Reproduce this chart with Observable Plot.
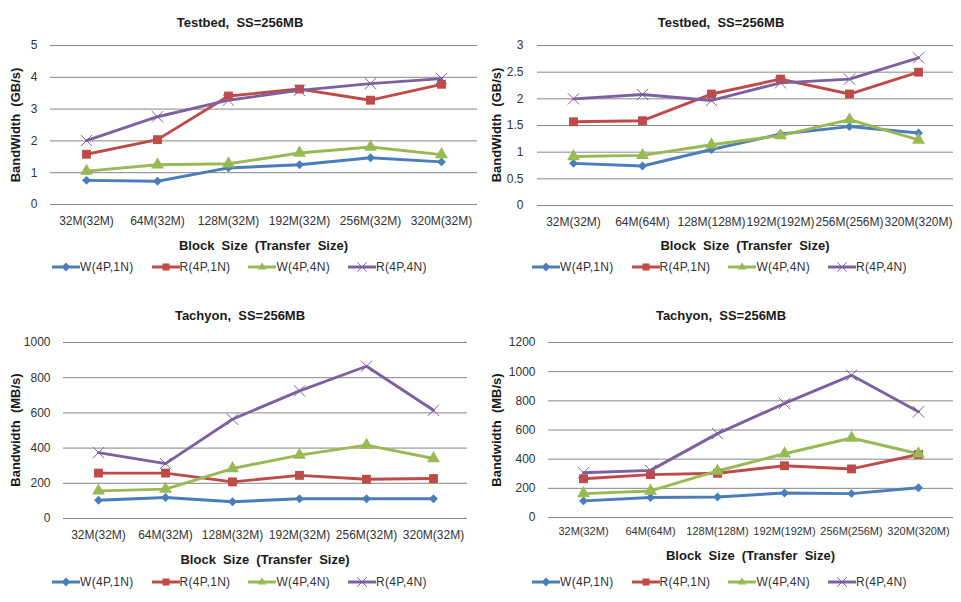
<!DOCTYPE html>
<html>
<head>
<meta charset="utf-8">
<script src="https://cdn.jsdelivr.net/npm/d3@7"></script>
<script src="https://cdn.jsdelivr.net/npm/@observablehq/plot@0.6"></script>
<style>
  html, body { margin: 0; padding: 0; background: #fff; }
  body { font-family: "Liberation Sans", Arial, sans-serif; }
  #root { position: relative; width: 961px; height: 602px; overflow: hidden; background: #fff; }
  .panel { position: absolute; }
  .panel svg { position: absolute; left: 0; top: 0; overflow: visible; }
  .ttl { position: absolute; transform: translate(-50%, -50%); white-space: pre; font-weight: bold; font-size: 13px; color: #1a1a1a; }
  .ylab { position: absolute; transform: translate(-50%, -50%) rotate(-90deg); white-space: pre; font-weight: bold; font-size: 13px; color: #1a1a1a; }
  .legend { position: absolute; display: flex; align-items: center; gap: 18px; transform: translateY(-50%); }
  .legend .item { display: flex; align-items: center; font-size: 12px; color: #333; letter-spacing: 0.3px; white-space: pre; }
  .legend .item svg { position: static; }
</style>
</head>
<body>
<div id="root"></div>
<script>
// ---------- Data ----------
const categoriesFixed = ["32M(32M)", "64M(32M)", "128M(32M)", "192M(32M)", "256M(32M)", "320M(32M)"];
const categoriesEqual = ["32M(32M)", "64M(64M)", "128M(128M)", "192M(192M)", "256M(256M)", "320M(320M)"];
const seriesNames = ["W(4P,1N)", "R(4P,1N)", "W(4P,4N)", "R(4P,4N)"];
const seriesColors = ["#4a7ebb", "#be4b48", "#98b954", "#7d60a0"];
const seriesSymbols = ["diamond2", "square", "triangle", "times"];

const titleTestbed = "Testbed,  SS=256MB";
const titleTachyon = "Tachyon,  SS=256MB";
const xTitle = "Block  Size  (Transfer  Size)";
const yTitleGB = "BandWidth  (GB/s)";
const yTitleMB = "Bandwidth  (MB/s)";

// Panel 1: Testbed, transfer size fixed at 32M (GB/s)
const testbedFixed_W1N = [0.76, 0.73, 1.15, 1.25, 1.47, 1.34];
const testbedFixed_R1N = [1.58, 2.04, 3.41, 3.63, 3.28, 3.78];
const testbedFixed_W4N = [1.05, 1.25, 1.28, 1.62, 1.81, 1.57];
const testbedFixed_R4N = [2.01, 2.76, 3.28, 3.59, 3.80, 3.96];
const testbedFixedTicks = [0, 1, 2, 3, 4, 5];

// Panel 2: Testbed, transfer size = block size (GB/s)
const testbedEqual_W1N = [0.79, 0.74, 1.05, 1.34, 1.48, 1.36];
const testbedEqual_R1N = [1.57, 1.59, 2.09, 2.37, 2.09, 2.50];
const testbedEqual_W4N = [0.92, 0.94, 1.14, 1.31, 1.61, 1.23];
const testbedEqual_R4N = [2.00, 2.08, 1.97, 2.30, 2.37, 2.77];
const testbedEqualTicks = [0, 0.5, 1, 1.5, 2, 2.5, 3];

// Panel 3: Tachyon, transfer size fixed at 32M (MB/s)
const tachyonFixed_W1N = [104, 119, 95, 112, 112, 112];
const tachyonFixed_R1N = [258, 258, 208, 245, 223, 227];
const tachyonFixed_W4N = [157, 167, 284, 360, 417, 341];
const tachyonFixed_R4N = [374, 312, 564, 725, 865, 615];
const tachyonFixedTicks = [0, 200, 400, 600, 800, 1000];

// Panel 4: Tachyon, transfer size = block size (MB/s)
const tachyonEqual_W1N = [114, 137, 141, 168, 164, 204];
const tachyonEqual_R1N = [266, 294, 303, 355, 333, 432];
const tachyonEqual_W4N = [164, 182, 319, 437, 545, 437];
const tachyonEqual_R4N = [307, 323, 575, 782, 975, 725];
const tachyonEqualTicks = [0, 200, 400, 600, 800, 1000, 1200];

// ---------- Build ----------
const symbolRadius = {diamond2: 4.0, square: 5.0, triangle: 4.8, times: 5.2};

function rowsFor(categories, seriesArrays) {
  const rows = [];
  seriesArrays.forEach((vals, si) => {
    vals.forEach((v, ci) => rows.push({cat: categories[ci], series: seriesNames[si], value: v}));
  });
  return rows;
}

function makeLegend() {
  const leg = document.createElement("div");
  leg.className = "legend";
  seriesNames.forEach((name, i) => {
    const item = document.createElement("div");
    item.className = "item";
    const svg = d3.create("svg").attr("width", 28).attr("height", 12);
    svg.append("line").attr("x1", 0).attr("x2", 28).attr("y1", 6).attr("y2", 6)
      .attr("stroke", seriesColors[i]).attr("stroke-width", 3);
    const symMap = {diamond2: d3.symbolDiamond2, square: d3.symbolSquare, triangle: d3.symbolTriangle2, times: d3.symbolTimes};
    const isTimes = seriesSymbols[i] === "times";
    svg.append("path")
      .attr("transform", "translate(14,6)")
      .attr("d", d3.symbol(symMap[seriesSymbols[i]], isTimes ? 60 : 50)())
      .attr("fill", isTimes ? "none" : seriesColors[i])
      .attr("stroke", isTimes ? seriesColors[i] : "none")
      .attr("stroke-width", 1);
    item.appendChild(svg.node());
    const t = document.createElement("span");
    t.textContent = name;
    item.appendChild(t);
    leg.appendChild(item);
  });
  return leg;
}

function panel(cfg) {
  const root = document.getElementById("root");
  const div = document.createElement("div");
  div.className = "panel";
  div.style.left = cfg.left + "px";
  div.style.top = cfg.top + "px";
  div.style.width = cfg.width + "px";
  div.style.height = cfg.height + "px";
  root.appendChild(div);

  const rows = rowsFor(cfg.categories, cfg.series);
  const ymax = cfg.ticks[cfg.ticks.length - 1];
  const dotMarks = seriesNames.map((name, i) => {
    const sym = seriesSymbols[i];
    const sub = rows.filter(d => d.series === name);
    return sym === "times"
      ? Plot.dot(sub, {x: "cat", y: "value", symbol: "series", stroke: "series", fill: "none", strokeWidth: 1, r: symbolRadius[sym]})
      : Plot.dot(sub, {x: "cat", y: "value", symbol: "series", fill: "series", stroke: "none", r: symbolRadius[sym]});
  });
  const chart = Plot.plot({
    width: cfg.width,
    height: cfg.height,
    marginLeft: cfg.ml, marginRight: cfg.mr, marginTop: cfg.mt, marginBottom: cfg.mb,
    style: {fontFamily: "'Liberation Sans', Arial, sans-serif", fontSize: "12px", color: "#333", background: "transparent", overflow: "visible"},
    x: {type: "point", domain: cfg.categories, padding: 0.5, label: null},
    y: {domain: [0, ymax], label: null},
    color: {domain: seriesNames, range: seriesColors},
    symbol: {domain: seriesNames, range: seriesSymbols},
    marks: [
      Plot.ruleY(cfg.ticks, {stroke: "#868686", strokeWidth: 1}),
      Plot.axisY({ticks: cfg.ticks, tickSize: 0, tickPadding: cfg.yPad, tickFormat: d => String(d), label: null}),
      Plot.axisX({tickSize: 0, tickPadding: cfg.xPad, label: null, fontSize: cfg.xFont}),
      Plot.line(rows, {x: "cat", y: "value", z: "series", stroke: "series", strokeWidth: 2.9}),
      ...dotMarks
    ]
  });
  div.appendChild(chart);

  const plotCx = (cfg.ml + (cfg.width - cfg.mr)) / 2;
  const plotCy = (cfg.mt + (cfg.height - cfg.mb)) / 2;

  const t = document.createElement("div");
  t.className = "ttl";
  t.textContent = cfg.title;
  t.style.left = cfg.titleX + "px";
  t.style.top = cfg.titleY + "px";
  div.appendChild(t);

  const xl = document.createElement("div");
  xl.className = "ttl";
  xl.textContent = xTitle;
  xl.style.left = plotCx + "px";
  xl.style.top = cfg.xTitleY + "px";
  div.appendChild(xl);

  const yl = document.createElement("div");
  yl.className = "ylab";
  yl.textContent = cfg.yTitle;
  yl.style.left = cfg.yTitleX + "px";
  yl.style.top = plotCy + "px";
  div.appendChild(yl);

  const leg = makeLegend();
  leg.style.left = "52px";
  leg.style.top = cfg.legendY + "px";
  div.appendChild(leg);
}

panel({left: 0, top: 0, width: 480, height: 300, ml: 50, mr: 3, mt: 45, mb: 96, xPad: 12, yPad: 13, xFont: 12,
  title: titleTestbed, titleX: 240, titleY: 22, xTitleY: 245, yTitle: yTitleGB, yTitleX: 15, legendY: 267,
  categories: categoriesFixed, ticks: testbedFixedTicks,
  series: [testbedFixed_W1N, testbedFixed_R1N, testbedFixed_W4N, testbedFixed_R4N]});

panel({left: 480, top: 0, width: 481, height: 300, ml: 57, mr: 8, mt: 45, mb: 95, xPad: 12, yPad: 14, xFont: 12,
  title: titleTestbed, titleX: 241, titleY: 22, xTitleY: 245, yTitle: yTitleGB, yTitleX: 16, legendY: 267,
  categories: categoriesEqual, ticks: testbedEqualTicks,
  series: [testbedEqual_W1N, testbedEqual_R1N, testbedEqual_W4N, testbedEqual_R4N]});

panel({left: 0, top: 300, width: 480, height: 302, ml: 63, mr: 13, mt: 42, mb: 84, xPad: 12, yPad: 13, xFont: 12,
  title: titleTachyon, titleX: 240, titleY: 15, xTitleY: 259, yTitle: yTitleMB, yTitleX: 15, legendY: 282,
  categories: categoriesFixed, ticks: tachyonFixedTicks,
  series: [tachyonFixed_W1N, tachyonFixed_R1N, tachyonFixed_W4N, tachyonFixed_R4N]});

panel({left: 480, top: 300, width: 481, height: 302, ml: 68, mr: 8, mt: 42, mb: 85, xPad: 10, yPad: 13, xFont: 11,
  title: titleTachyon, titleX: 241, titleY: 15, xTitleY: 255, yTitle: yTitleMB, yTitleX: 16, legendY: 282,
  categories: categoriesEqual, ticks: tachyonEqualTicks,
  series: [tachyonEqual_W1N, tachyonEqual_R1N, tachyonEqual_W4N, tachyonEqual_R4N]});
</script>
</body>
</html>
